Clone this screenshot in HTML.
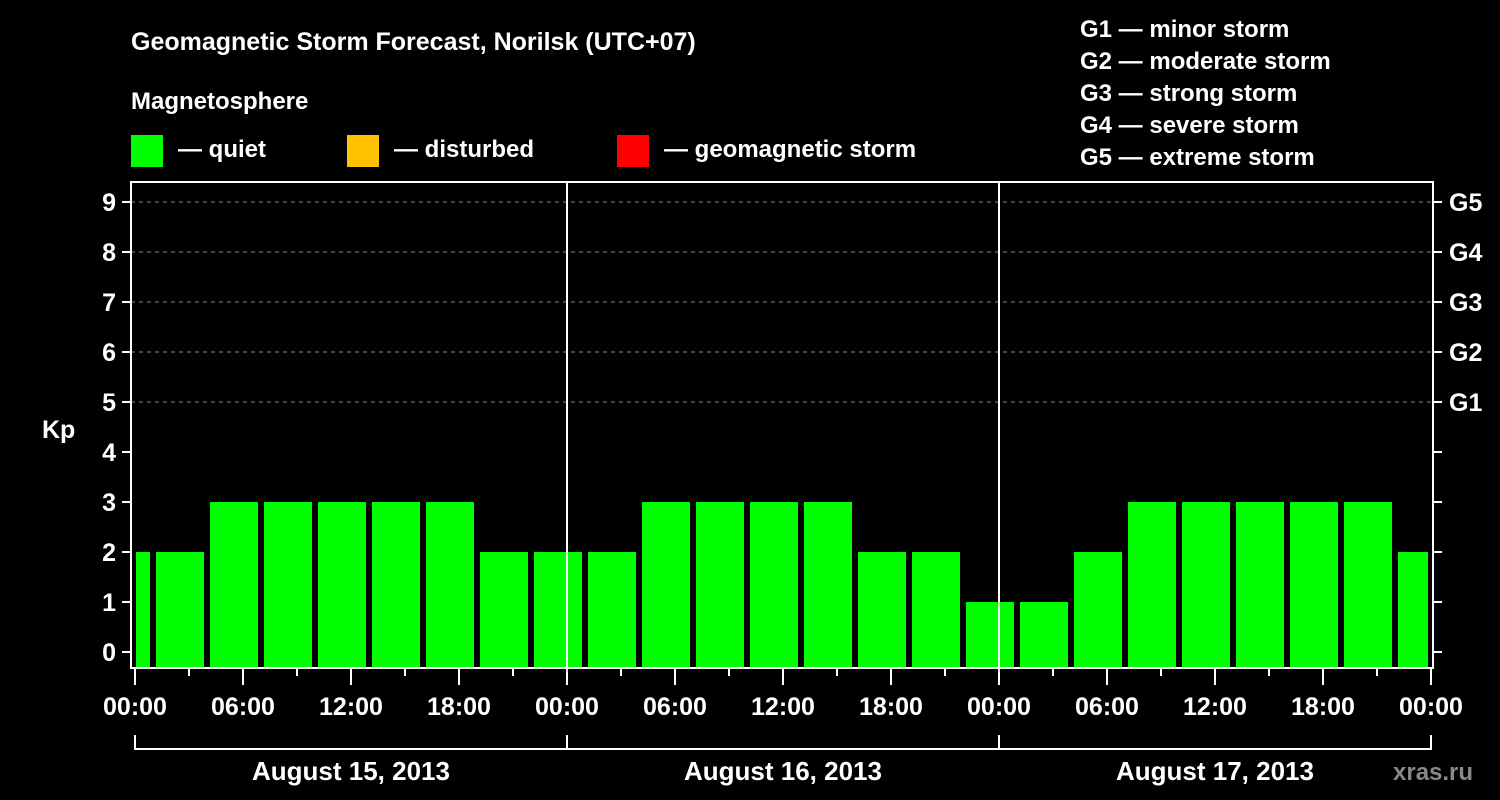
<!DOCTYPE html>
<html><head><meta charset="utf-8"><style>
html,body{margin:0;padding:0;background:#000;}
svg{display:block;font-family:"Liberation Sans",Arial,sans-serif;font-weight:bold;}
</style></head><body>
<svg id="chart" width="1500" height="800" viewBox="0 0 1500 800" xmlns="http://www.w3.org/2000/svg">
<rect width="1500" height="800" fill="#000"/>
<text x="131" y="50" fill="#fff" font-size="25">Geomagnetic Storm Forecast, Norilsk (UTC+07)</text>
<text x="131" y="109" fill="#fff" font-size="24">Magnetosphere</text>
<g><rect x="131" y="135" width="32" height="32" fill="#00ff00"/><text x="178" y="157" fill="#fff" font-size="24">— quiet</text></g>
<g><rect x="347" y="135" width="32" height="32" fill="#ffc000"/><text x="394" y="157" fill="#fff" font-size="24">— disturbed</text></g>
<g><rect x="617" y="135" width="32" height="32" fill="#ff0000"/><text x="664" y="157" fill="#fff" font-size="24">— geomagnetic storm</text></g>
<g fill="#fff" font-size="24">
<text x="1080" y="37">G1 — minor storm</text>
<text x="1080" y="69">G2 — moderate storm</text>
<text x="1080" y="101">G3 — strong storm</text>
<text x="1080" y="133">G4 — severe storm</text>
<text x="1080" y="165">G5 — extreme storm</text>
</g>
<text x="42" y="438" fill="#fff" font-size="25">Kp</text>
<text x="1393" y="780" fill="#888" font-size="24">xras.ru</text>
<g id="grid"></g><g id="bars"></g><g id="axes"></g>
</svg>
<script>
const kpValues = [2, 2,3,3,3,3,3,2,2, 2,3,3,3,3,2,2,1, 1,2,3,3,3,3,3,2];
const firstSlotHour = -2;
const slotHours = 3;
const dayLabels = ["August 15, 2013","August 16, 2013","August 17, 2013"];
const hourLabels = ["00:00","06:00","12:00","18:00"];
const kpTicks = [0,1,2,3,4,5,6,7,8,9];
const gLabels = ["G1","G2","G3","G4","G5"];
const gLevels = [5,6,7,8,9];

const NS="http://www.w3.org/2000/svg";
const L=131,R=1433,T=182,B=668;
const xH=h=>135+18*h;
const yK=k=>652-50*k;
function mk(parent,tag,attrs){const e=document.createElementNS(NS,tag);for(const k in attrs)e.setAttribute(k,attrs[k]);document.getElementById(parent).appendChild(e);return e;}

gLevels.forEach((k,i)=>{
  const g=mk('grid','line',{x1:L,x2:R,y1:yK(k),y2:yK(k),stroke:'#888','stroke-dasharray':'4,4','stroke-width':1});
  
  
});
kpValues.forEach((v,i)=>{
  const s=xH(firstSlotHour+i*slotHours);
  const x0=Math.max(s+3,136), x1=Math.min(s+51,1428);
  const color=v>=5?'#ff0000':(v>=4?'#ffc000':'#00ff00');
  const r=mk('bars','rect',{x:x0,y:yK(v),width:x1-x0,height:B-yK(v),fill:color});
  
  
});
// frame
mk('axes','rect',{x:L,y:T,width:R-L,height:B-T,fill:'none',stroke:'#fff','stroke-width':2});
for(let d=1;d<dayLabels.length;d++){
  const dl=mk('axes','line',{x1:xH(24*d),x2:xH(24*d),y1:T,y2:B,stroke:'#fff','stroke-width':2});
  
  
}
kpTicks.forEach(k=>{
  mk('axes','line',{x1:122,x2:L,y1:yK(k),y2:yK(k),stroke:'#fff','stroke-width':2});
  mk('axes','line',{x1:R,x2:1442,y1:yK(k),y2:yK(k),stroke:'#fff','stroke-width':2});
  const t=mk('axes','text',{x:116,y:yK(k)+9,fill:'#fff','font-size':25,'text-anchor':'end'});
  t.textContent=k;
  
  
});
gLevels.forEach((k,i)=>{
  const t=mk('axes','text',{x:1449,y:yK(k)+9,fill:'#fff','font-size':25});
  t.textContent=gLabels[i];
  
  
});
for(let h=0;h<=24*dayLabels.length;h+=3){
  const long=h%6===0;
  mk('axes','line',{x1:xH(h),x2:xH(h),y1:B,y2:long?685:676,stroke:'#fff','stroke-width':2});
  if(long){
    const t=mk('axes','text',{x:xH(h),y:715,fill:'#fff','font-size':25,'text-anchor':'middle'});
    t.textContent=hourLabels[(h%24)/6];
    
    
  }
}
mk('axes','line',{x1:xH(0),x2:xH(24*dayLabels.length),y1:749,y2:749,stroke:'#fff','stroke-width':2});
for(let d=0;d<=dayLabels.length;d++) mk('axes','line',{x1:xH(24*d),x2:xH(24*d),y1:735,y2:750,stroke:'#fff','stroke-width':2});
dayLabels.forEach((lab,d)=>{
  const t=mk('axes','text',{x:xH(24*d+12),y:780,fill:'#fff','font-size':26,'text-anchor':'middle'});
  t.textContent=lab;
  
  
});
</script>
</body></html>
